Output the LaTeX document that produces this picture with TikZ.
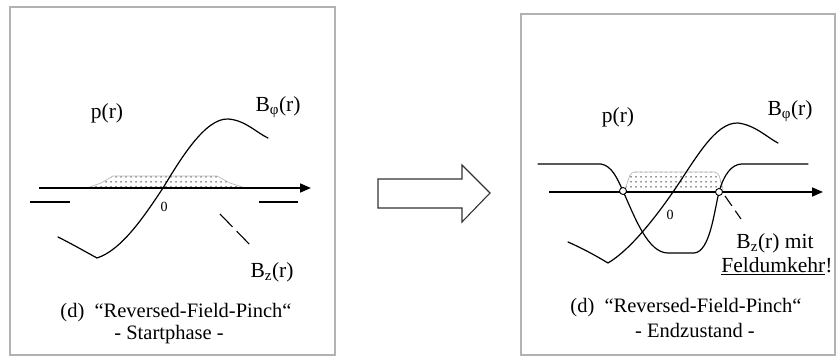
\documentclass[tikz,border=0pt]{standalone}
\usepackage{fontspec}
\setmainfont{Liberation Serif}
\usetikzlibrary{patterns,arrows.meta}
\pgfdeclarepatternformonly{sparsedots}{\pgfpointorigin}{\pgfqpoint{5pt}{5pt}}{\pgfqpoint{5pt}{5pt}}{%
  \pgfpathcircle{\pgfqpoint{1.25pt}{1.25pt}}{0.85pt}\pgfusepath{fill}}
\tikzset{
  panel/.style={draw=gray!60, line width=1.2pt},
  curve/.style={line width=1.2pt, line join=round, line cap=round},
  axis/.style={line width=1.7pt, -{Triangle[length=11pt,width=9pt]}},
  plateau/.style={pattern=sparsedots, pattern color=black!85, draw=gray!55, line width=0.7pt},
  lbl/.style={font=\fontsize{21.5}{25}\selectfont, inner sep=0pt},
  captext/.style={font=\fontsize{20.5}{24}\selectfont, inner sep=0pt},
  zero/.style={font=\fontsize{14}{16}\selectfont, inner sep=0pt},
  knot/.style={draw, fill=white, line width=0.9pt},
  blockarrow/.style={draw=black!80, line width=1.1pt, fill=white, line join=miter},
  bzdash/.style={line width=1.1pt, dash pattern=on 18pt off 6pt}
}
\begin{document}
\begin{tikzpicture}[x=1pt,y=-1pt]
\useasboundingbox (0,0) rectangle (837,363);
% panels
\draw[panel] (10,7) rectangle (335,355);
\draw[panel] (521,14) rectangle (835,355);

% ---------- left panel ----------
\filldraw[plateau] (87,188) -- (101,183) -- (113,176) -- (217,176) -- (230,183) -- (245,188) -- cycle;
\coordinate (la0) at (39,188);
\coordinate (la1) at (311,188);
\draw[axis] (la0) -- (la1);
\draw[line width=1.4pt] (30,202) -- (70,202);
\draw[line width=1.4pt] (259,202) -- (298,202);
\draw[curve] (58,237) .. controls (72,244) and (86,252) .. (97,258)
  .. controls (122,250) and (145,215) .. (163,188)
  .. controls (180,160) and (205,118) .. (228,119)
  .. controls (245,120) and (257,133) .. (268,138);
\draw[bzdash] (220,214) -- (253,248);
\node[zero] (lzero) at (164,207) {0};
\node[lbl] (lp) at (107,113) {p(r)};
\node[lbl] (lbphi) at (278,107) {B\textsubscript{φ}(r)};
\node[lbl] (lbz) at (272,272) {B\textsubscript{z}(r)};
\node[captext] (lcap1) at (176,313) {(d)\ \ “Reversed-Field-Pinch“};
\node[captext] (lcap2) at (169,335) {- Startphase -};

% ---------- middle arrow ----------
\draw[blockarrow] (378,179) -- (462,179) -- (462,165) -- (490,193) -- (462,222) -- (462,208) -- (378,208) -- cycle;

% ---------- right panel ----------
\filldraw[plateau, rounded corners=4pt] (624,192) -- (631,172) -- (718,172) -- (724,192) -- cycle;
\coordinate (ra0) at (549,192);
\coordinate (ra1) at (823,192);
\draw[axis] (ra0) -- (ra1);
% B_z with field reversal
\draw[curve] (538,164) -- (601,164)
  .. controls (612,166) and (617,178) .. (623,191)
  .. controls (635,218) and (648,253) .. (668,253)
  -- (694,253)
  .. controls (710,252) and (714,212) .. (719,192)
  .. controls (724,174) and (732,164) .. (742,164)
  -- (808,164);
% B_phi
\draw[curve] (568,242) .. controls (584,249) and (598,257) .. (608,263)
  .. controls (630,250) and (655,218) .. (673,192)
  .. controls (695,160) and (715,122) .. (738,123)
  .. controls (755,125) and (768,138) .. (778,143);
\draw[bzdash, dash pattern=on 12pt off 6pt] (725,196) -- (741,219);
\node[knot, circle, minimum size=7pt, inner sep=0pt] (rk1) at (623,191) {};
\node[knot, circle, minimum size=7pt, inner sep=0pt] (rk2) at (719,192) {};
\node[zero] (rzero) at (670,215) {0};
\node[lbl] (rp) at (618,117) {p(r)};
\node[lbl] (rbphi) at (790,111) {B\textsubscript{φ}(r)};
\node[lbl] (rbz) at (775,243) {B\textsubscript{z}(r) mit};
\node[lbl] (rfeld) at (777,266) {\underline{Feldumkehr}!};
\node[captext] (rcap1) at (686,308) {(d)\ \ “Reversed-Field-Pinch“};
\node[captext] (rcap2) at (695,330) {- Endzustand -};
\end{tikzpicture}
\end{document}
